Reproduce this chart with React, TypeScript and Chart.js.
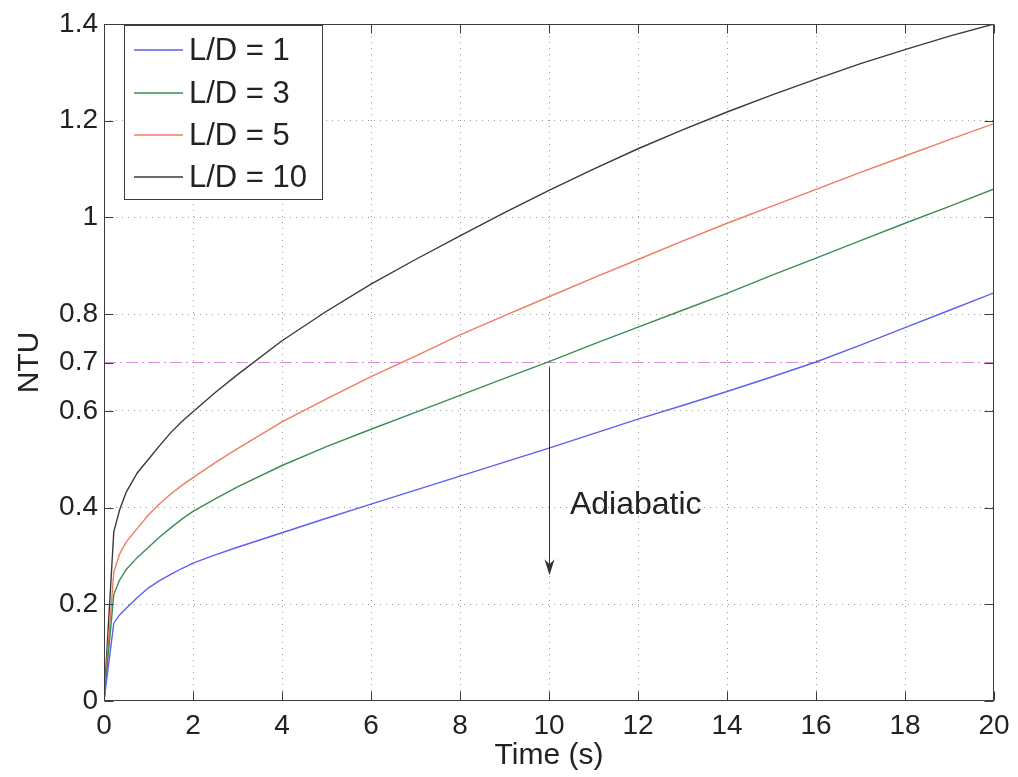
import React, { useEffect, useRef } from "react";
import { Chart, registerables } from "chart.js";

Chart.register(...registerables);

// ---- data ----
const times = [0, 0.22, 0.35, 0.5, 0.75, 1, 1.25, 1.5, 1.75, 2, 2.5, 3, 4, 5, 6, 7, 8, 9, 10, 11, 12, 13, 14, 15, 16, 17, 18, 19, 20];
const ntuLD1 = [0, 0.161, 0.178, 0.192, 0.214, 0.234, 0.249, 0.262, 0.274, 0.285, 0.302, 0.318, 0.348, 0.378, 0.407, 0.436, 0.465, 0.494, 0.523, 0.553, 0.583, 0.611, 0.64, 0.67, 0.701, 0.736, 0.772, 0.808, 0.844];
const ntuLD3 = [0, 0.22, 0.25, 0.272, 0.297, 0.318, 0.339, 0.358, 0.376, 0.392, 0.418, 0.443, 0.487, 0.526, 0.562, 0.597, 0.632, 0.667, 0.702, 0.738, 0.773, 0.808, 0.843, 0.88, 0.916, 0.952, 0.988, 1.023, 1.059];
const ntuLD5 = [0, 0.266, 0.304, 0.329, 0.357, 0.385, 0.408, 0.428, 0.446, 0.462, 0.493, 0.522, 0.577, 0.625, 0.671, 0.713, 0.757, 0.797, 0.836, 0.875, 0.913, 0.951, 0.988, 1.023, 1.058, 1.093, 1.127, 1.161, 1.194];
const ntuLD10 = [0, 0.35, 0.395, 0.432, 0.472, 0.5, 0.528, 0.555, 0.578, 0.598, 0.638, 0.675, 0.745, 0.806, 0.862, 0.913, 0.962, 1.01, 1.056, 1.1, 1.142, 1.181, 1.218, 1.253, 1.286, 1.318, 1.347, 1.375, 1.4];

const seriesLabels = ["L/D = 1", "L/D = 3", "L/D = 5", "L/D = 10"];
const seriesColors = ["#5f5ff0", "#3d8c52", "#f07a64", "#3a3a3a"];

const xTicks = [0, 2, 4, 6, 8, 10, 12, 14, 16, 18, 20];
const yTicks = [0, 0.2, 0.4, 0.6, 0.7, 0.8, 1, 1.2, 1.4];

const thresholdTimes = [0, 20];
const thresholdNTU = [0.7, 0.7];

const arrowTime = 10;
const arrowFrom = 0.69;
const arrowTo = 0.26;
const annotationText = "Adiabatic";
const annotationTime = 10.47;
const annotationNTU = 0.405;

const FONT = '"Liberation Sans", Arial, Helvetica, sans-serif';

const overlayPlugin = {
  id: "overlay",
  afterDraw(chart: any) {
    const { ctx, chartArea: a, scales } = chart;
    const xs = scales.x;
    const ys = scales.y;
    ctx.save();

    // box
    const L = Math.round(a.left) + 0.5;
    const R = Math.round(a.right) - 0.5;
    const T = Math.round(a.top) + 0.5;
    const B = Math.round(a.bottom) - 0.5;
    ctx.strokeStyle = "#3c3c3c";
    ctx.lineWidth = 1;
    ctx.setLineDash([]);
    ctx.strokeRect(L, T, R - L, B - T);

    // inward ticks
    const tl = 9;
    ctx.beginPath();
    for (const v of xTicks) {
      const px = Math.round(xs.getPixelForValue(v)) + 0.5;
      ctx.moveTo(px, B);
      ctx.lineTo(px, B - tl);
      ctx.moveTo(px, T);
      ctx.lineTo(px, T + tl);
    }
    for (const v of yTicks) {
      const py = Math.round(ys.getPixelForValue(v)) + 0.5;
      ctx.moveTo(L, py);
      ctx.lineTo(L + tl, py);
      ctx.moveTo(R, py);
      ctx.lineTo(R - tl, py);
    }
    ctx.stroke();

    // arrow
    const ax = Math.round(xs.getPixelForValue(arrowTime)) + 0.5;
    const ay1 = ys.getPixelForValue(arrowFrom);
    const ay2 = ys.getPixelForValue(arrowTo);
    ctx.strokeStyle = "#333";
    ctx.beginPath();
    ctx.moveTo(ax, ay1);
    ctx.lineTo(ax, ay2 - 10);
    ctx.stroke();
    ctx.fillStyle = "#333";
    ctx.beginPath();
    ctx.moveTo(ax, ay2);
    ctx.lineTo(ax - 5, ay2 - 16);
    ctx.lineTo(ax, ay2 - 11);
    ctx.lineTo(ax + 5, ay2 - 16);
    ctx.closePath();
    ctx.fill();

    // annotation
    ctx.fillStyle = "#222";
    ctx.font = `32px ${FONT}`;
    ctx.textAlign = "left";
    ctx.textBaseline = "middle";
    ctx.fillText(annotationText, xs.getPixelForValue(annotationTime), ys.getPixelForValue(annotationNTU));

    // legend
    const lx = a.left + 20;
    const ly = a.top + 1;
    const lw = 198;
    const lh = 174;
    ctx.fillStyle = "#ffffff";
    ctx.fillRect(lx, ly, lw, lh);
    ctx.strokeStyle = "#3c3c3c";
    ctx.lineWidth = 1;
    ctx.strokeRect(Math.round(lx) + 0.5, Math.round(ly) + 0.5, lw, lh);
    ctx.font = `31px ${FONT}`;
    ctx.textBaseline = "middle";
    const rowOffsets = [25, 68, 110, 152];
    seriesLabels.forEach((lab, i) => {
      const ry = ly + rowOffsets[i];
      ctx.strokeStyle = seriesColors[i];
      ctx.lineWidth = 1.3;
      ctx.beginPath();
      ctx.moveTo(lx + 10, ry);
      ctx.lineTo(lx + 59, ry);
      ctx.stroke();
      ctx.fillStyle = "#222";
      ctx.fillText(lab, lx + 65, ry + 1);
    });

    ctx.restore();
  },
};

export default function App() {
  const ref = useRef<HTMLCanvasElement>(null);

  useEffect(() => {
    document.body.style.margin = "0";
    const canvas = ref.current;
    if (!canvas) return;
    const series = [ntuLD1, ntuLD3, ntuLD5, ntuLD10];
    const datasets: any[] = series.map((vals, i) => ({
      label: seriesLabels[i],
      data: times.map((t, j) => ({ x: t, y: vals[j] })),
      borderColor: seriesColors[i],
      borderWidth: 1.4,
      pointRadius: 0,
      fill: false,
      tension: 0,
    }));
    datasets.push({
      label: "threshold",
      data: thresholdTimes.map((t, j) => ({ x: t, y: thresholdNTU[j] })),
      borderColor: "#d58fd8",
      borderWidth: 1,
      borderDash: [12, 4, 2, 4],
      pointRadius: 0,
      fill: false,
    });

    const chart = new Chart(canvas, {
      type: "line",
      data: { datasets },
      plugins: [overlayPlugin],
      options: {
        animation: false,
        responsive: false,
        layout: { padding: { top: 24, right: 24, left: 0, bottom: 0 } },
        plugins: { legend: { display: false }, tooltip: { enabled: false } },
        scales: {
          x: {
            type: "linear",
            min: 0,
            max: 20,
            afterBuildTicks: (s: any) => {
              s.ticks = xTicks.map((v) => ({ value: v }));
            },
            afterFit: (s: any) => {
              s.height = 76;
            },
            ticks: {
              font: { family: FONT, size: 28 },
              color: "#222",
              padding: 8,
              maxRotation: 0,
              autoSkip: false,
              callback: (v: any) => String(v),
            },
            grid: {
              color: (c: any) => (c.tick && (c.tick.value === 0 || c.tick.value === 20) ? "rgba(0,0,0,0)" : "#9a9a9a"),
              lineWidth: 1,
              drawTicks: false,
            },
            border: { display: false, dash: [1, 5] },
            title: {
              display: true,
              text: "Time (s)",
              font: { family: FONT, size: 30 },
              color: "#222",
              padding: { top: 0, bottom: 3 },
            },
          },
          y: {
            type: "linear",
            min: 0,
            max: 1.4,
            afterBuildTicks: (s: any) => {
              s.ticks = yTicks.map((v) => ({ value: v }));
            },
            afterFit: (s: any) => {
              s.width = 104;
            },
            ticks: {
              font: { family: FONT, size: 28 },
              color: "#222",
              padding: 6,
              autoSkip: false,
              callback: (v: any) => String(v),
            },
            grid: {
              color: (c: any) =>
                c.tick && (c.tick.value === 0.7 || c.tick.value === 0 || c.tick.value === 1.4) ? "rgba(0,0,0,0)" : "#9a9a9a",
              lineWidth: 1,
              drawTicks: false,
            },
            border: { display: false, dash: [1, 5] },
            title: {
              display: true,
              text: "NTU",
              font: { family: FONT, size: 30 },
              color: "#222",
              padding: { top: 12, bottom: 0 },
            },
          },
        },
      },
    } as any);

    return () => chart.destroy();
  }, []);

  return (
    <div style={{ width: 1018, height: 777, background: "#fff" }}>
      <canvas ref={ref} width={1018} height={777} style={{ display: "block" }} />
    </div>
  );
}
